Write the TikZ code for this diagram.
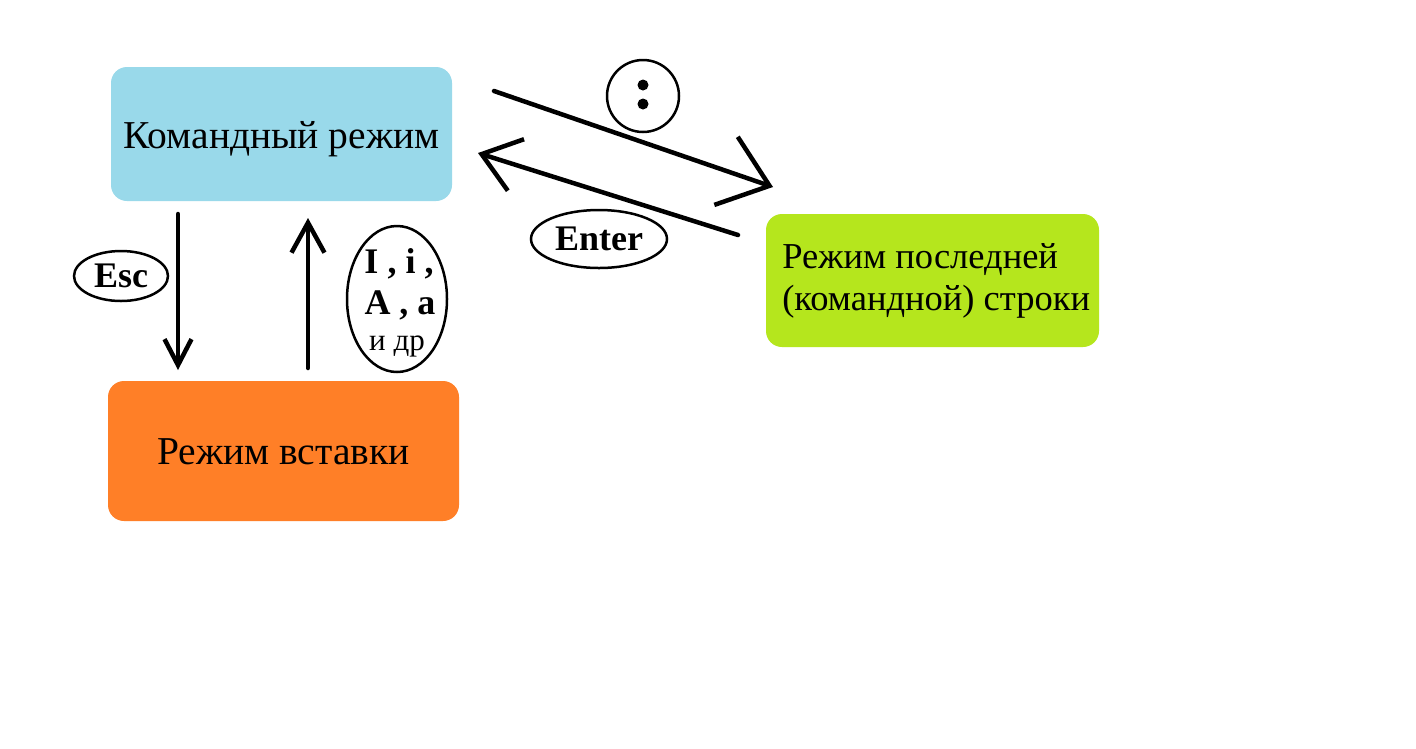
\documentclass[tikz,border=0pt]{standalone}
\usepackage{fontspec}
\setmainfont{Liberation Serif}
\usetikzlibrary{arrows.meta,shapes.geometric}
\definecolor{cmdblue}{HTML}{99D9EA}
\definecolor{insorange}{HTML}{FF7F27}
\definecolor{linegreen}{HTML}{B5E61D}
\tikzset{
  modebox/.style={rounded corners=16pt, inner sep=0pt},
  boxtext/.style={font=\fontsize{39.5}{44}\selectfont},
  keyoval/.style={draw, line width=2.5pt, ellipse, inner sep=0pt},
  keytext/.style={font=\bfseries\fontsize{36}{40}\selectfont},
  conn/.style={line width=4.5pt, line cap=round, line join=round},
}
\begin{document}
\begin{tikzpicture}[x=1pt,y=-1pt]
\useasboundingbox (0,0) rectangle (1416,748);
\fill[white] (0,0) rectangle (1416,748);
% boxes
\node[modebox, fill=cmdblue, minimum width=341pt, minimum height=134pt] (cmd) at (281.5,134) {};
\node[boxtext] at ([yshift=-5pt]cmd.center) {Командный режим};
\node[modebox, fill=insorange, minimum width=351pt, minimum height=140pt] (ins) at (283.5,451) {};
\node[boxtext] at ([yshift=-1pt]ins.center) {Режим вставки};
\node[modebox, fill=linegreen, minimum width=333pt, minimum height=133pt] (last) at (932.5,280.5) {};
\node[font=\fontsize{36.5}{42}\selectfont, align=left, anchor=west] at ([xshift=13pt]last.west) {Режим последней\\(командной) строки};
% key ovals
\node[keyoval, minimum width=94pt, minimum height=50pt, keytext] (esc) at (121,276) {Esc};
\node[keyoval, minimum width=136pt, minimum height=58pt, keytext] (enter) at (599,239) {Enter};
\node[keyoval, circle, minimum size=72pt] (colon) at (643,96) {};
\fill (643,85) circle (5.5pt) (643,104) circle (5.5pt);
\node[keyoval, minimum width=100pt, minimum height=146pt] (ins keys) at (397,299) {};
\node[keytext] at (399,264) {I , i ,};
\node[keytext] at (400,305) {A , a};
\node[font=\fontsize{31}{36}\selectfont] at (397,346) {и др};
% connector end points
\coordinate (d1) at (178,214);
\coordinate (d2) at (178,370);
\coordinate (u1) at (308,368);
\coordinate (u2) at (308,218);
\coordinate (r1) at (494,91);
\coordinate (r2) at (773,187);
\coordinate (l1) at (738,235);
\coordinate (l2) at (478,153);
\draw[conn, -{Straight Barb[length=26pt,width=27pt,line width=4.5pt]}] (d1) -- (d2);
\draw[conn, -{Straight Barb[length=30pt,width=33pt,line width=4.5pt]}] (u1) -- (u2);
\draw[conn, -{Straight Barb[length=46pt,width=72pt,line width=4.5pt]}] (r1) -- (r2);
\draw[conn, -{Straight Barb[length=36pt,width=54pt,line width=4.5pt]}] (l1) -- (l2);
\end{tikzpicture}
\end{document}
